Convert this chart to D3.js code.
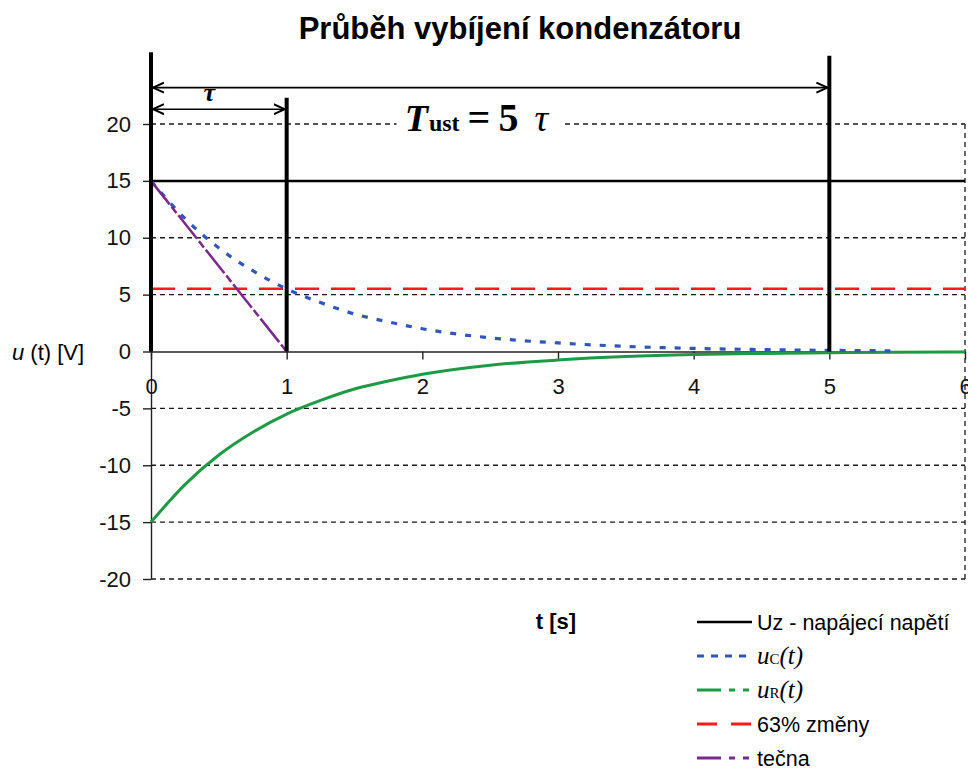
<!DOCTYPE html>
<html>
<head>
<meta charset="utf-8">
<script src="https://cdn.jsdelivr.net/npm/d3@7"></script>
<style>
  body { margin: 0; background: #fff; }
  svg { display: block; font-family: Arial, "Liberation Sans", sans-serif; }
  .grid line { stroke: #1a1a1a; stroke-width: 1.3; stroke-dasharray: 5 4; }
  .axis path, .axis line { stroke: #222; stroke-width: 1.4; }
  .axis text { font-size: 22px; fill: #111; }
</style>
</head>
<body>
<div id="chart"></div>
<script>
// time samples [s]
const tSamples = [0, 0.25, 0.5, 0.75, 1, 1.25, 1.5, 1.75, 2, 2.5, 3, 3.5, 4, 4.5, 5, 5.45];
// capacitor voltage uc(t) [V]
const ucValues = [15, 11.7, 9.1, 7.1, 5.5, 4.3, 3.3, 2.6, 2.0, 1.2, 0.75, 0.45, 0.27, 0.17, 0.1, 0.06];
// resistor voltage uR(t) [V], runs until t = 6
const tSamplesR = [0, 0.25, 0.5, 0.75, 1, 1.25, 1.5, 1.75, 2, 2.5, 3, 3.5, 4, 4.5, 5, 5.5, 6];
const urValues = [-15, -11.7, -9.1, -7.1, -5.5, -4.3, -3.3, -2.6, -2.0, -1.2, -0.75, -0.45, -0.27, -0.17, -0.1, -0.06, -0.04];
// tangent at t = 0
const tangentT = [0, 1];
const tangentU = [15, 0];
const supplyU = 15;      // Uz
const level63 = 5.52;    // 63 % change level
const xTicks = [0, 1, 2, 3, 4, 5, 6];
const yTicks = [-20, -15, -10, -5, 0, 5, 10, 15, 20];
const legendLabels = ["Uz - napájecí napětí", "uC(t)", "uR(t)", "63% změny", "tečna"];

const width = 968, height = 771;
const margin = { left: 151, right: 3, top: 124, bottom: 192 };

const svg = d3.select("#chart").append("svg")
  .attr("width", width)
  .attr("height", height);

const x = d3.scaleLinear().domain([0, 6]).range([margin.left, width - margin.right]);
const y = d3.scaleLinear().domain([-20, 20]).range([height - margin.bottom, margin.top]);

// title
svg.append("text")
  .attr("x", 520).attr("y", 39)
  .attr("text-anchor", "middle")
  .style("font-size", "31px").style("font-weight", "bold")
  .text("Průběh vybíjení kondenzátoru");

// gridlines (the 0 level is the axis)
svg.append("g").attr("class", "grid")
  .selectAll("line")
  .data(yTicks.filter(d => d !== 0))
  .join("line")
  .attr("x1", x(0)).attr("x2", x(6))
  .attr("y1", d => y(d)).attr("y2", d => y(d));
svg.select(".grid").append("line")
  .attr("x1", x(6)).attr("x2", x(6))
  .attr("y1", y(20)).attr("y2", y(-20));

// axes, plain hyphen for negatives as in the original
svg.append("g").attr("class", "axis")
  .attr("transform", "translate(" + x(0) + ",0)")
  .call(d3.axisLeft(y).tickValues(yTicks).tickFormat(d => String(d))
    .tickSize(8).tickPadding(12).tickSizeOuter(0));
svg.append("g").attr("class", "axis")
  .attr("transform", "translate(0," + y(0) + ")")
  .call(d3.axisBottom(x).tickValues(xTicks).tickFormat(d => String(d))
    .tickSize(8).tickPadding(19).tickSizeOuter(0));

// 63% level
svg.append("line")
  .attr("x1", x(0)).attr("x2", x(6))
  .attr("y1", y(level63)).attr("y2", y(level63))
  .style("stroke", "#ff1a1a").style("stroke-width", 2.5)
  .style("stroke-dasharray", "24 12");

// supply voltage
svg.append("line")
  .attr("x1", x(0)).attr("x2", x(6))
  .attr("y1", y(supplyU)).attr("y2", y(supplyU))
  .style("stroke", "#000").style("stroke-width", 2.5);

const line = d3.line().x(d => x(d[0])).y(d => y(d[1]));

// uR(t)
svg.append("path")
  .datum(tSamplesR.map((t, i) => [t, urValues[i]]))
  .attr("d", line.curve(d3.curveMonotoneX))
  .style("fill", "none").style("stroke", "#1e9a45").style("stroke-width", 3);

// uc(t)
svg.append("path")
  .datum(tSamples.map((t, i) => [t, ucValues[i]]))
  .attr("d", line.curve(d3.curveMonotoneX))
  .style("fill", "none").style("stroke", "#2f56b8").style("stroke-width", 3.2)
  .style("stroke-dasharray", "6 9");

// tangent
svg.append("path")
  .datum(tangentT.map((t, i) => [t, tangentU[i]]))
  .attr("d", line.curve(d3.curveLinear))
  .style("fill", "none").style("stroke", "#7a2a8c").style("stroke-width", 2.5)
  .style("stroke-dasharray", "30 3 8 3");

// time-constant markers (y values above the plot area)
const markers = [
  { t: 0, top: 26.3 },
  { t: 1, top: 22.3 },
  { t: 5, top: 26.0 }
];
svg.append("g").selectAll("line")
  .data(markers)
  .join("line")
  .attr("x1", d => x(d.t)).attr("x2", d => x(d.t))
  .attr("y1", d => y(d.top)).attr("y2", y(0))
  .style("stroke", "#000").style("stroke-width", 4);

// arrow heads
svg.append("defs").append("marker")
  .attr("id", "head")
  .attr("viewBox", "0 -6 12 12")
  .attr("refX", 11).attr("refY", 0)
  .attr("markerWidth", 12).attr("markerHeight", 12)
  .attr("markerUnits", "userSpaceOnUse")
  .attr("orient", "auto-start-reverse")
  .append("path")
  .attr("d", "M0,-5 L11,0 L0,5")
  .style("fill", "none").style("stroke", "#000").style("stroke-width", 2);

const spans = [
  { from: 0, to: 5, level: 23.2 },
  { from: 0, to: 1, level: 21.3 }
];
svg.append("g").selectAll("line")
  .data(spans)
  .join("line")
  .attr("x1", d => x(d.from) + 2).attr("x2", d => x(d.to) - 2)
  .attr("y1", d => y(d.level)).attr("y2", d => y(d.level))
  .attr("marker-start", "url(#head)").attr("marker-end", "url(#head)")
  .style("stroke", "#000").style("stroke-width", 1.6);

svg.append("text")
  .attr("x", x(0.43)).attr("y", y(22.0))
  .attr("text-anchor", "middle")
  .style("font-family", "'Liberation Serif', 'DejaVu Serif', serif")
  .style("font-style", "italic").style("font-weight", "bold")
  .style("font-size", "26px")
  .text("τ");

// T_ust = 5 tau, on a white box over the top gridline
svg.append("rect")
  .attr("x", x(1.81)).attr("y", y(21.6))
  .attr("width", x(3.05) - x(1.81)).attr("height", y(18.6) - y(21.6))
  .style("fill", "#fff");
const tust = svg.append("text")
  .attr("x", x(1.87)).attr("y", y(19.35))
  .style("font-family", "'Liberation Serif', 'DejaVu Serif', serif")
  .style("font-weight", "bold");
tust.append("tspan").style("font-style", "italic").style("font-size", "38px").text("T");
tust.append("tspan").style("font-size", "24px").attr("dx", 1).text("ust");
tust.append("tspan").style("font-size", "40px").attr("dx", 8).text("=");
tust.append("tspan").style("font-size", "40px").attr("dx", 8).text("5");
tust.append("tspan").style("font-style", "italic").style("font-weight", "normal")
  .style("font-size", "38px").attr("dx", 16).text("τ");

// axis titles
const yTitle = svg.append("text")
  .attr("x", 12).attr("y", y(0) + 8)
  .style("font-size", "22px");
yTitle.append("tspan").style("font-style", "italic").text("u");
yTitle.append("tspan").text(" (t) [V]");

svg.append("text")
  .attr("x", 556).attr("y", 629)
  .attr("text-anchor", "middle")
  .style("font-size", "22px").style("font-weight", "bold")
  .text("t [s]");

// legend
const legendStyles = [
  { color: "#000", dash: null, width: 2.5 },
  { color: "#2f56b8", dash: "7 7", width: 3 },
  { color: "#1e9a45", dash: "24 8 6 8 6 100", width: 3 },
  { color: "#ff1a1a", dash: "20 14 20 100", width: 3 },
  { color: "#7a2a8c", dash: "24 8 6 8 6 100", width: 3 }
];
const legend = svg.append("g")
  .selectAll("g")
  .data(legendLabels)
  .join("g")
  .attr("transform", (d, i) => "translate(697," + (622 + i * 34) + ")");
legend.append("line")
  .attr("x1", 0).attr("x2", 55)
  .style("stroke", (d, i) => legendStyles[i].color)
  .style("stroke-width", (d, i) => legendStyles[i].width)
  .style("stroke-dasharray", (d, i) => legendStyles[i].dash);
legend.each(function(d, i) {
  const g = d3.select(this);
  const txt = g.append("text").attr("x", 60).attr("y", 8).style("font-size", "21.5px");
  if (i === 1 || i === 2) {
    txt.style("font-family", "'Liberation Serif', 'DejaVu Serif', serif").style("font-style", "italic");
    txt.append("tspan").style("font-size", "25px").text("u");
    txt.append("tspan").style("font-style", "normal").style("font-size", "15px").text(d.slice(1, 2));
    txt.append("tspan").style("font-size", "25px").text(d.slice(2));
  } else {
    txt.text(d);
  }
});
</script>
</body>
</html>
